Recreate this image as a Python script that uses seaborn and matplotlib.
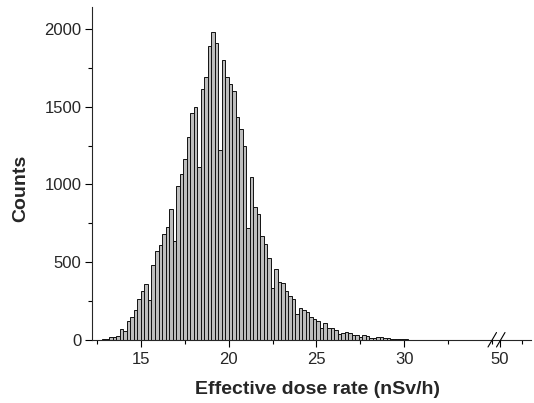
#!/usr/bin/env python3
"""
Histogram of effective dose rate with a broken x axis.
"""

import matplotlib

matplotlib.use("Agg")
import matplotlib.pyplot as plt
import numpy as np
import pandas as pd
import seaborn as sns
from matplotlib.lines import Line2D
from matplotlib.ticker import MultipleLocator, FixedLocator

# bins of 0.2 nSv/h starting at 12.6
bin_start = 12.6
bin_width = 0.2
counts = [
    2, 4, 8, 17, 21, 25, 69, 56, 120, 150,            # 12.6 - 14.4
    191, 266, 317, 358, 255, 482, 574, 611, 680, 727,  # 14.6 - 16.4
    840, 637, 990, 1068, 1166, 1303, 1458, 1496, 1115, 1614,  # 16.6 - 18.4
    1689, 1893, 1983, 1908, 1222, 1799, 1693, 1644, 1603, 1432,  # 18.6 - 20.4
    1355, 1245, 718, 1050, 858, 813, 671, 617, 525, 332,  # 20.6 - 22.4
    455, 371, 365, 313, 285, 266, 165, 208, 195, 178,  # 22.6 - 24.4
    146, 135, 122, 74, 112, 80, 75, 64, 36, 43,        # 24.6 - 26.4
    49, 47, 34, 30, 21, 30, 24, 15, 15, 17,            # 26.6 - 28.4
    21, 15, 12, 8, 6, 6, 4, 4, 3, 2,                   # 28.6 - 30.4
    2, 2, 2, 2, 1, 1, 1, 1,                            # 30.6 - 32.0
]
x_ticks = [15, 20, 25, 30]
x_ticks_right = [50]
y_ticks = [0, 500, 1000, 1500, 2000]

edges = bin_start + bin_width * np.arange(len(counts) + 1)
hist_df = pd.DataFrame({
    "dose": (edges[:-1] + edges[1:]) / 2,
    "count": counts,
})

sns.set_theme(style="ticks")
plt.rcParams["font.family"] = ["Liberation Sans", "DejaVu Sans"]
plt.rcParams["axes.linewidth"] = 0.8

W, H = 534, 403
fig = plt.figure(figsize=(W / 100, H / 100), dpi=100)


def px_rect(x0, x1, y_top, y_bot):
    return [x0 / W, 1 - y_bot / H, (x1 - x0) / W, (y_bot - y_top) / H]


ax = fig.add_axes(px_rect(92, 496, 7, 340))
ax_r = fig.add_axes(px_rect(497, 531, 7, 340))

sns.histplot(
    data=hist_df,
    x="dose",
    weights="count",
    bins=list(edges),
    ax=ax,
    color="#bdbdbd",
    edgecolor="#111111",
    linewidth=0.7,
    alpha=1.0,
)

ax.set_xlim(12.21, 35.23)
ax.set_ylim(0, 2141)
ax_r.set_xlim(49.7, 53.56)
ax_r.set_ylim(0, 2141)

for a in (ax, ax_r):
    sns.despine(ax=a)
    a.tick_params(which="major", direction="out", length=5.2, width=0.8, labelsize=12, color="black")
    a.tick_params(which="minor", direction="out", length=3, width=0.8, color="black")
    a.tick_params(axis="x", which="major", pad=3.5)
    a.tick_params(axis="y", which="major", pad=2.5)

ax.xaxis.set_major_locator(FixedLocator(x_ticks))
ax.xaxis.set_minor_locator(MultipleLocator(2.5))
ax.yaxis.set_major_locator(FixedLocator(y_ticks))
ax.yaxis.set_minor_locator(MultipleLocator(250))
ax.set_ylabel("Counts", fontsize=14, fontweight="bold")
ax.yaxis.set_label_coords((29.5 - 92) / 404, (340 - 188) / 333)
ax.set_xlabel("")

ax_r.spines["left"].set_visible(False)
ax_r.set_yticks([])
ax_r.xaxis.set_major_locator(FixedLocator(x_ticks_right))
ax_r.xaxis.set_minor_locator(FixedLocator([52.5]))
ax_r.set_ylabel("")

fig.text(317.5 / W, 1 - 390 / H, "Effective dose rate (nSv/h)", ha="center", va="center",
         fontsize=14, fontweight="bold")

# break marks on the x axis
for dx in (0, 8.5):
    fig.add_artist(Line2D([(488 + dx) / W, (496.5 + dx) / W],
                          [1 - 347 / H, 1 - 332.5 / H],
                          color="black", linewidth=0.8))

fig.savefig("out.png", dpi=100)
plt.close(fig)
